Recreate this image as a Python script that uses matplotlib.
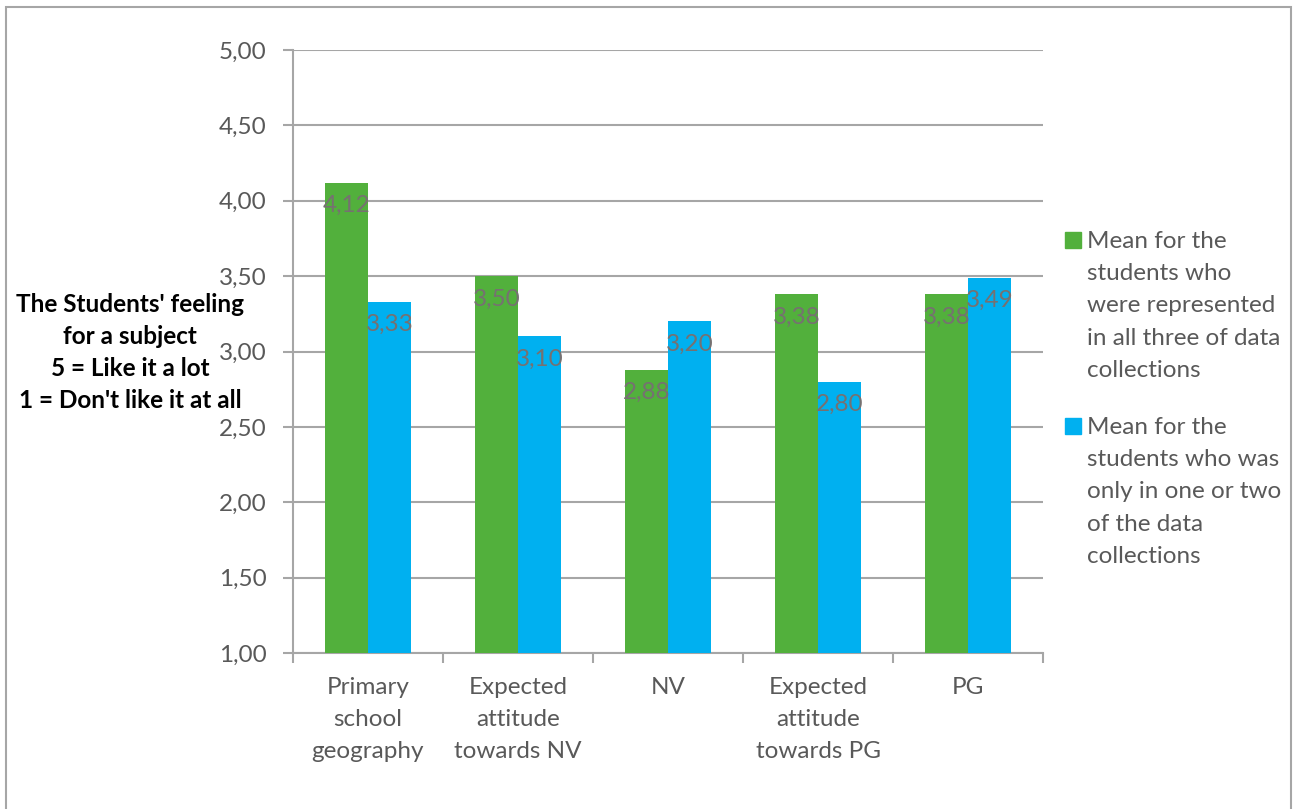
import numpy as np
import matplotlib
matplotlib.use("Agg")
from matplotlib import pyplot as plt
from matplotlib.patches import Rectangle
from matplotlib.ticker import FuncFormatter, FixedLocator

categories = ["Primary\nschool\ngeography", "Expected\nattitude\ntowards NV", "NV",
              "Expected\nattitude\ntowards PG", "PG"]
mean_all_three = [4.12, 3.50, 2.88, 3.38, 3.38]
mean_one_or_two = [3.33, 3.10, 3.20, 2.80, 3.49]
series_names = [
    "Mean for the\nstudents who\nwere represented\nin all three of data\ncollections",
    "Mean for the\nstudents who was\nonly in one or two\nof the data\ncollections",
]
y_label_lines = ["The Students' feeling", "for a subject", "5 = Like it a lot",
                 "1 = Don't like it at all"]

green = "#52B03C"
blue = "#00B0F0"
grid_gray = "#A6A6A6"
text_gray = "#595959"
label_gray = "#767171"
fs = 17.5
ls = 1.66

plt.rcParams['font.family'] = ['Lato', 'DejaVu Sans']

W, H = 1293, 809
fig = plt.figure(figsize=(W / 100, H / 100), dpi=100, facecolor="white")
ax = fig.add_axes([293 / W, (H - 653) / H, 750 / W, 603 / H])

x = np.arange(len(categories))
bw = 43 / 150
bars_a = ax.bar(x - bw / 2, mean_all_three, bw, color=green, zorder=3)
bars_b = ax.bar(x + bw / 2, mean_one_or_two, bw, color=blue, zorder=3)

def comma(v, pos=None):
    return f"{v:.2f}".replace(".", ",")

for bars in (bars_a, bars_b):
    for b in bars:
        v = b.get_height()
        ax.annotate(comma(v), (b.get_x() + b.get_width() / 2, v),
                    xytext=(0, -16.5), textcoords="offset points",
                    ha="center", va="center", fontsize=fs, color=label_gray, zorder=4)

ax.set_ylim(1, 5)
ax.set_xlim(-0.5, len(categories) - 0.5)
ax.set_yticks(np.arange(1, 5.01, 0.5))
ax.yaxis.set_major_formatter(FuncFormatter(comma))
ax.grid(axis="y", color=grid_gray, linewidth=1.5, zorder=0)

ax.set_xticks(x)
ax.set_xticklabels(categories, fontsize=fs, color=text_gray, linespacing=ls)
ax.xaxis.set_minor_locator(FixedLocator(np.arange(-0.5, len(categories), 1)))
ax.tick_params(axis="x", which="major", length=0, pad=17)
ax.tick_params(axis="x", which="minor", length=7, width=1.5, color=grid_gray, direction="out")
ax.tick_params(axis="y", length=7, width=1.5, color=grid_gray, direction="out",
               labelsize=fs, labelcolor=text_gray, pad=12)

for side in ("top", "right"):
    ax.spines[side].set_visible(False)
for side in ("left", "bottom"):
    ax.spines[side].set_color(grid_gray)
    ax.spines[side].set_linewidth(1.5)

# axis caption on the left, one line at a time so it tucks around the tick labels
for i, line in enumerate(y_label_lines):
    fig.text(130 / W, 1 - (305 + 32 * i) / H, line, ha="center", va="center",
             fontsize=fs, fontweight="bold", color="black")

# legend drawn by hand so the swatch sits next to the first line
for i, (name, col) in enumerate(zip(series_names, [green, blue])):
    top = 231 + i * 186
    sw_top = 232 + i * 186
    fig.patches.append(Rectangle((1065 / W, 1 - (sw_top + 16) / H), 16 / W, 16 / H,
                                 transform=fig.transFigure, color=col))
    fig.text(1087 / W, 1 - top / H, name, ha="left", va="top", fontsize=fs,
             color=text_gray, linespacing=ls)

# chart frame
fig.patches.append(Rectangle((6 / W, -0.05), 1285 / W, 1.05 - 7 / H, transform=fig.transFigure,
                             fill=False, edgecolor=grid_gray, linewidth=1.5))

fig.savefig("out.png", dpi=100, facecolor="white")
